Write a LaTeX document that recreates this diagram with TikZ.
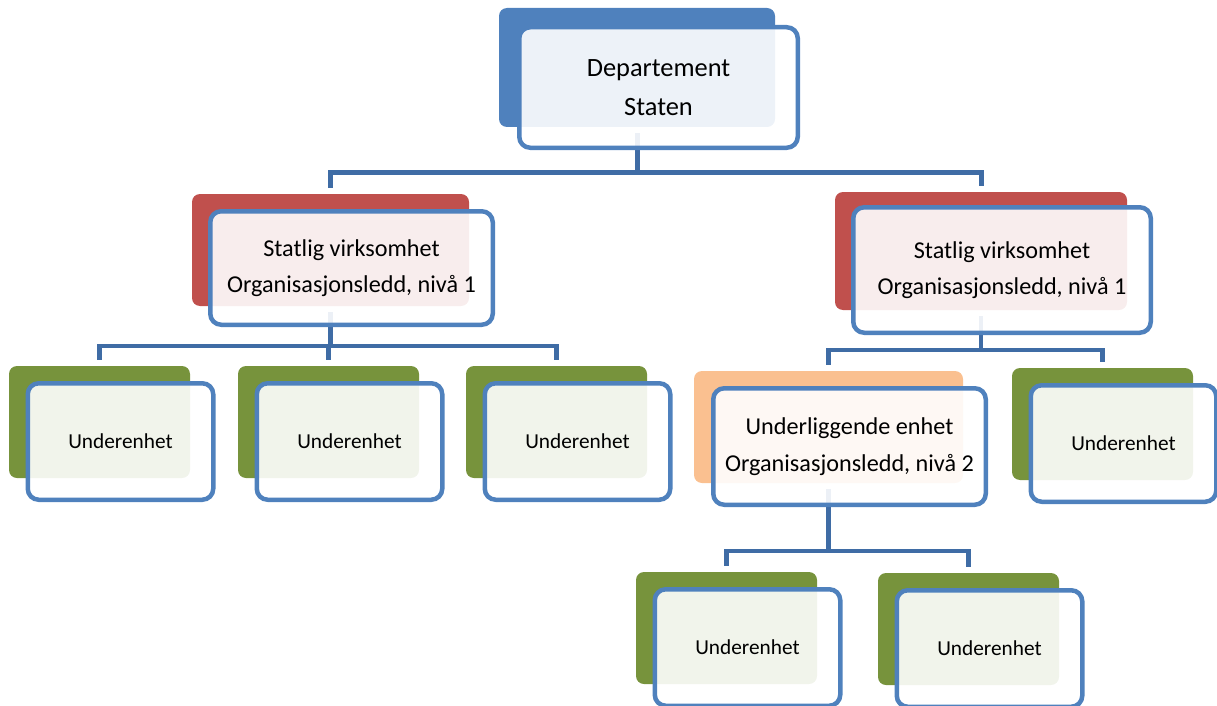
\documentclass[tikz,border=0pt]{standalone}
\usepackage{fontspec}
\setmainfont{Carlito}
\definecolor{outl}{HTML}{4F81BD}
\definecolor{connc}{HTML}{3F6CA5}
\definecolor{bblue}{HTML}{4F81BD}
\definecolor{bred}{HTML}{C0504D}
\definecolor{bgreen}{HTML}{77933C}
\definecolor{borange}{HTML}{FAC090}
\begin{document}
\begin{tikzpicture}[x=1pt,y=-1pt,
  back/.style={rectangle, rounded corners=8pt, inner sep=0pt, draw=none},
  front/.style={rectangle, rounded corners=11pt, inner sep=0pt, draw=outl, line width=4.5pt,
    fill=white, fill opacity=0.9, text opacity=1, draw opacity=1, align=center},
  conn/.style={draw=connc, line width=4.5pt, shorten >=6pt, shorten <=6pt},
  ttop/.style={font=\fontsize{26.4}{39}\selectfont},
  tone/.style={font=\fontsize{24.2}{36}\selectfont},
  ttwo/.style={font=\fontsize{24.2}{37}\selectfont},
  tsub/.style={font=\fontsize{21.3}{25}\selectfont},
  gback/.style={back, fill=bgreen, minimum width=181pt, minimum height=112pt},
  gfront/.style={front, tsub, minimum width=185.5pt, minimum height=116.5pt}
]
\useasboundingbox (0,0) rectangle (1217,706);

% back shapes
\node[back, fill=bblue, minimum width=276pt, minimum height=119pt] (b0) at (637,67.5) {};
\node[back, fill=bred, minimum width=277pt, minimum height=112pt] (b1) at (330.5,250) {};
\node[back, fill=bred, minimum width=292pt, minimum height=118pt] (b2) at (981,251) {};
\node[back, fill=borange, minimum width=269pt, minimum height=112pt] (bo) at (828.5,427) {};
\node[gback] (g1) at (99.5,422) {};
\node[gback] (g2) at (328.5,422) {};
\node[gback] (g3) at (556.5,422) {};
\node[gback] (g4) at (1102.5,424) {};
\node[gback] (g5) at (726.5,628) {};
\node[gback] (g6) at (968.5,629) {};

% junction levels
\coordinate (h0) at (0,172);
\coordinate (h1) at (0,346);
\coordinate (h2) at (0,350);
\coordinate (h3) at (0,551);

% connectors
\draw[conn, line width=5pt] (b0.south) -- (b0.south |- h0) -| (b1.north);
\draw[conn, line width=5pt] (b0.south) -- (b0.south |- h0) -| (b2.north);
\draw[conn] (b1.south) -- (b1.south |- h1) -| (g1.north);
\draw[conn] (b1.south) -- (b1.south |- h1) -| (g2.north);
\draw[conn] (b1.south) -- (b1.south |- h1) -| (g3.north);
\draw[conn] (b2.south) -- (b2.south |- h2) -| (bo.north);
\draw[conn] (b2.south) -- (b2.south |- h2) -| (g4.north);
\draw[conn] (bo.south) -- (bo.south |- h3) -| (g5.north);
\draw[conn] (bo.south) -- (bo.south |- h3) -| (g6.north);

% front boxes
\node[front, ttop, minimum width=278.5pt, minimum height=120.5pt] (f0) at (658.5,87.5) {Departement\\Staten};
\node[front, tone, minimum width=282.5pt, minimum height=113.5pt] (f1) at (351.5,268) {Statlig virksomhet\\Organisasjonsledd, nivå 1};
\node[front, tone, minimum width=297.5pt, minimum height=125.5pt] (f2) at (1002,270) {Statlig virksomhet\\Organisasjonsledd, nivå 1};
\node[front, ttwo, minimum width=272.5pt, minimum height=116.5pt] (fo) at (849.5,446.5) {Underliggende enhet\\Organisasjonsledd, nivå 2};
\node[gfront] (fg1) at (120.5,441.5) {Underenhet};
\node[gfront] (fg2) at (349.5,441.5) {Underenhet};
\node[gfront] (fg3) at (577.5,441.5) {Underenhet};
\node[gfront] (fg4) at (1123.5,443.5) {Underenhet};
\node[gfront] (fg5) at (747.5,647.5) {Underenhet};
\node[gfront] (fg6) at (989.5,648.5) {Underenhet};
\end{tikzpicture}
\end{document}
